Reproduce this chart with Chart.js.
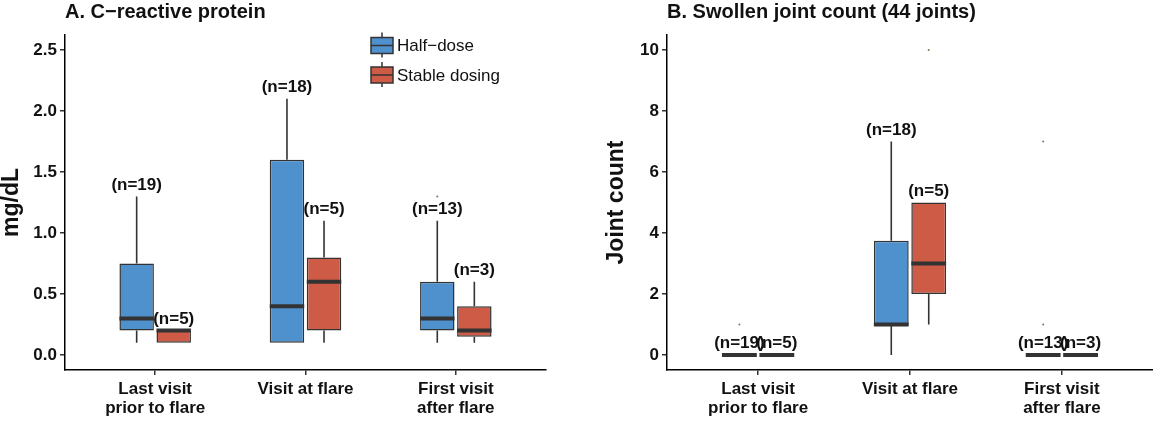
<!DOCTYPE html>
<html>
<head>
<meta charset="utf-8">
<script src="https://cdn.jsdelivr.net/npm/chart.js@4"></script>
<style>
  body { margin: 0; background: #fff; }
  #wrap { position: relative; width: 1153px; height: 421px; }
  #crpChart { position: absolute; left: 0; top: 0; }
  #jointChart { position: absolute; left: 600px; top: 0; }
</style>
</head>
<body>
<div id="wrap">
  <canvas id="crpChart" width="575" height="421"></canvas>
  <canvas id="jointChart" width="553" height="421"></canvas>
</div>
<script>
  // categories and series
  const categories = [['Last visit', 'prior to flare'], 'Visit at flare', ['First visit', 'after flare']];
  const xPos = [1, 2, 3];
  const seriesNames = ['Half\u2212dose', 'Stable dosing'];
  const seriesColors = ['#4f91cd', '#cd5b45'];

  // A. C-reactive protein (mg/dL)
  const crpHalfMin = [0.1, 0.1, 0.1];
  const crpHalfQ1 = [0.2, 0.1, 0.2];
  const crpHalfMed = [0.3, 0.4, 0.3];
  const crpHalfQ3 = [0.75, 1.6, 0.6];
  const crpHalfMax = [1.3, 2.1, 1.1];
  const crpHalfOut = [[], [], [1.3]];
  const crpHalfN = [19, 18, 13];

  const crpStableMin = [0.1, 0.1, 0.1];
  const crpStableQ1 = [0.1, 0.2, 0.15];
  const crpStableMed = [0.2, 0.6, 0.2];
  const crpStableQ3 = [0.2, 0.8, 0.4];
  const crpStableMax = [0.2, 1.1, 0.6];
  const crpStableOut = [[], [], []];
  const crpStableN = [5, 5, 3];

  const crpTicks = [0, 0.5, 1, 1.5, 2, 2.5];

  // B. Swollen joint count
  const jointHalfMin = [0, 0, 0];
  const jointHalfQ1 = [0, 1, 0];
  const jointHalfMed = [0, 1, 0];
  const jointHalfQ3 = [0, 3.75, 0];
  const jointHalfMax = [0, 7, 0];
  const jointHalfOut = [[1], [], [1, 7]];
  const jointHalfN = [19, 18, 13];

  const jointStableMin = [0, 1, 0];
  const jointStableQ1 = [0, 2, 0];
  const jointStableMed = [0, 3, 0];
  const jointStableQ3 = [0, 5, 0];
  const jointStableMax = [0, 5, 0];
  const jointStableOut = [[], [10], []];
  const jointStableN = [5, 5, 3];

  const jointTicks = [0, 2, 4, 6, 8, 10];

  const FONT = "'Liberation Sans', Arial, sans-serif";
  const INK = '#333333';
  const TEXT = '#111111';

  Chart.defaults.font.family = FONT;
  Chart.defaults.color = TEXT;

  function boxDataset(idx, q1, q3, stats) {
    return {
      label: seriesNames[idx],
      data: xPos.map((x, i) => ({ x: x, y: [q1[i], q3[i]] })),
      backgroundColor: seriesColors[idx],
      borderColor: INK,
      borderWidth: 1.5,
      borderSkipped: false,
      categoryPercentage: 0.493,
      barPercentage: 0.93,
      stats: stats
    };
  }

  // whiskers under boxes, medians / outliers / n labels on top
  const boxplotPlugin = {
    id: 'boxplotExtras',
    beforeDatasetsDraw(chart) {
      const ctx = chart.ctx;
      const y = chart.scales.y;
      ctx.save();
      ctx.strokeStyle = INK;
      ctx.lineWidth = 1.6;
      chart.data.datasets.forEach((ds, d) => {
        chart.getDatasetMeta(d).data.forEach((bar, i) => {
          const s = ds.stats;
          ctx.beginPath();
          ctx.moveTo(bar.x, y.getPixelForValue(s.min[i]));
          ctx.lineTo(bar.x, y.getPixelForValue(s.q1[i]));
          ctx.moveTo(bar.x, y.getPixelForValue(s.q3[i]));
          ctx.lineTo(bar.x, y.getPixelForValue(s.max[i]));
          ctx.stroke();
        });
      });
      ctx.restore();
    },
    afterDatasetsDraw(chart, args, opts) {
      const ctx = chart.ctx;
      const y = chart.scales.y;
      ctx.save();
      chart.data.datasets.forEach((ds, d) => {
        chart.getDatasetMeta(d).data.forEach((bar, i) => {
          const s = ds.stats;
          const half = bar.width / 2;
          // median
          const my = y.getPixelForValue(s.med[i]);
          ctx.strokeStyle = INK;
          ctx.lineWidth = 4;
          ctx.beginPath();
          ctx.moveTo(bar.x - half, my);
          ctx.lineTo(bar.x + half, my);
          ctx.stroke();
          // outliers
          ctx.fillStyle = '#7a7a55';
          s.out[i].forEach(v => {
            ctx.beginPath();
            ctx.arc(bar.x, y.getPixelForValue(v), 1, 0, Math.PI * 2);
            ctx.fill();
          });
          // n label
          ctx.fillStyle = TEXT;
          ctx.font = 'bold 17px ' + FONT;
          ctx.textAlign = 'center';
          ctx.textBaseline = 'bottom';
          ctx.fillText('(n=' + s.n[i] + ')', bar.x, y.getPixelForValue(s.max[i]) - 3);
        });
      });
      // panel title
      ctx.fillStyle = TEXT;
      ctx.font = 'bold 20px ' + FONT;
      ctx.textAlign = 'left';
      ctx.textBaseline = 'alphabetic';
      ctx.fillText(opts.title, chart.chartArea.left, 17.5);

      // legend (boxplot keys)
      if (opts.legend) {
        const kx = 371, kw = 22;
        const rows = [45.5, 75];
        rows.forEach((cy, r) => {
          ctx.strokeStyle = INK;
          ctx.lineWidth = 1.5;
          ctx.beginPath();
          ctx.moveTo(kx + kw / 2, cy - 13);
          ctx.lineTo(kx + kw / 2, cy + 12);
          ctx.stroke();
          ctx.fillStyle = seriesColors[r];
          ctx.fillRect(kx, cy - 8, kw, 16);
          ctx.strokeRect(kx, cy - 8, kw, 16);
          ctx.beginPath();
          ctx.moveTo(kx, cy);
          ctx.lineTo(kx + kw, cy);
          ctx.stroke();
          ctx.fillStyle = TEXT;
          ctx.font = '17px ' + FONT;
          ctx.textAlign = 'left';
          ctx.textBaseline = 'middle';
          ctx.fillText(seriesNames[r], kx + kw + 4, cy + 1);
        });
      }
      ctx.restore();
    }
  };

  function makeChart(canvasId, opts) {
    const ctx = document.getElementById(canvasId).getContext('2d');
    return new Chart(ctx, {
      type: 'bar',
      data: {
        datasets: [
          boxDataset(0, opts.half.q1, opts.half.q3, opts.half),
          boxDataset(1, opts.stable.q1, opts.stable.q3, opts.stable)
        ]
      },
      plugins: [boxplotPlugin],
      options: {
        responsive: false,
        animation: false,
        devicePixelRatio: 1,
        events: [],
        layout: { padding: { top: 35, right: opts.padRight, left: 0, bottom: 0 } },
        plugins: {
          legend: { display: false },
          tooltip: { enabled: false },
          boxplotExtras: { title: opts.title, legend: opts.legend }
        },
        scales: {
          x: {
            type: 'linear',
            min: 0.4,
            max: 3.6,
            offset: false,
            afterBuildTicks: scale => { scale.ticks = xPos.map(v => ({ value: v })); },
            afterFit: scale => { scale.height = 51; },
            ticks: {
              callback: value => categories[value - 1],
              font: { size: 17, weight: 'bold', lineHeight: 1.12 },
              color: TEXT,
              padding: 5,
              maxRotation: 0,
              autoSkip: false
            },
            grid: { display: true, drawOnChartArea: false, offset: false, tickLength: 5, color: INK, lineWidth: 1.5 },
            border: { display: true, color: '#000', width: 1.5 }
          },
          y: {
            min: opts.yMin,
            max: opts.yMax,
            afterBuildTicks: scale => { scale.ticks = opts.ticks.map(v => ({ value: v })); },
            afterFit: scale => { scale.width = opts.yWidth; },
            ticks: {
              callback: value => opts.tickFmt(value),
              font: { size: 17, weight: 'bold' },
              color: TEXT,
              padding: 3
            },
            title: {
              display: true,
              text: opts.yTitle,
              font: { size: 23, weight: 'bold', lineHeight: 1 },
              color: TEXT,
              padding: { top: opts.yTitlePad, bottom: 0 }
            },
            grid: { display: true, drawOnChartArea: false, tickLength: 5, color: INK, lineWidth: 1.5 },
            border: { display: true, color: '#000', width: 1.5 }
          }
        }
      }
    });
  }

  window.addEventListener('DOMContentLoaded', () => {
    makeChart('crpChart', {
      title: 'A. C\u2212reactive protein',
      legend: true,
      yTitle: 'mg/dL',
      yTitlePad: 0,
      yMin: -0.123,
      yMax: 2.623,
      yWidth: 65,
      padRight: 29,
      ticks: crpTicks,
      tickFmt: v => v.toFixed(1),
      half: { min: crpHalfMin, q1: crpHalfQ1, med: crpHalfMed, q3: crpHalfQ3, max: crpHalfMax, out: crpHalfOut, n: crpHalfN },
      stable: { min: crpStableMin, q1: crpStableQ1, med: crpStableMed, q3: crpStableQ3, max: crpStableMax, out: crpStableOut, n: crpStableN }
    });

    makeChart('jointChart', {
      title: 'B. Swollen joint count (44 joints)',
      legend: false,
      yTitle: 'Joint count',
      yTitlePad: 5.5,
      yMin: -0.49,
      yMax: 10.49,
      yWidth: 67,
      padRight: 0,
      ticks: jointTicks,
      tickFmt: v => String(v),
      half: { min: jointHalfMin, q1: jointHalfQ1, med: jointHalfMed, q3: jointHalfQ3, max: jointHalfMax, out: jointHalfOut, n: jointHalfN },
      stable: { min: jointStableMin, q1: jointStableQ1, med: jointStableMed, q3: jointStableQ3, max: jointStableMax, out: jointStableOut, n: jointStableN }
    });
  });
</script>
</body>
</html>
